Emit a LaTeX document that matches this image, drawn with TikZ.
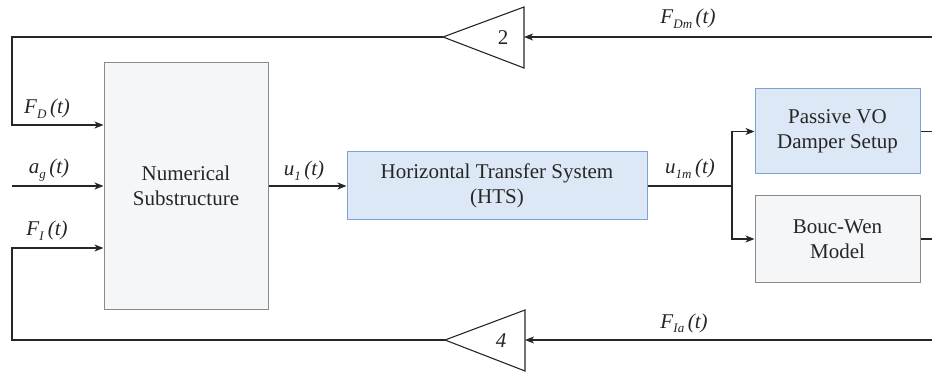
\documentclass[tikz,border=0pt]{standalone}
\usepackage{fontspec}
\setmainfont{Liberation Serif}
\usetikzlibrary{arrows.meta,calc}
\definecolor{boxgray}{HTML}{F5F6F8}
\definecolor{bordgray}{HTML}{8A8A8A}
\definecolor{boxblue}{HTML}{DCE8F6}
\definecolor{bordblue}{HTML}{7FA2D4}
\definecolor{ink}{HTML}{262626}
\newcommand{\sgl}[2]{\textit{#1}\raisebox{-0.45ex}{\scalebox{0.62}{\textit{#2}}}\,\textit{(t)}}
\begin{document}
\begin{tikzpicture}[x=1pt,y=-1pt,
  every node/.style={text=ink,font=\fontsize{21}{25}\selectfont},
  blk/.style={draw=bordgray,fill=boxgray,line width=1pt,align=center,inner sep=0pt},
  bblk/.style={draw=bordblue,fill=boxblue,line width=1pt,align=center,inner sep=0pt},
  wire/.style={draw=ink,line width=1.1pt},
  arr/.style={wire,-{Stealth[length=9pt,width=7pt,inset=2.5pt]}},
  lbl/.style={inner sep=0pt,anchor=base}]
\useasboundingbox (0,0) rectangle (932,374);
% blocks
\node[blk,minimum width=164pt,minimum height=246pt] (num) at (186,186) {Numerical\\Substructure};
\node[bblk,minimum width=300pt,minimum height=68pt] (hts) at (497,186) {Horizontal Transfer System\\(HTS)};
\node[bblk,minimum width=165pt,minimum height=85pt] (pvo) at (837.5,131.5) {Passive VO\\Damper Setup};
\node[blk,minimum width=165pt,minimum height=86pt] (bw) at (837.5,239) {Bouc-Wen\\Model};
% gain triangles
\coordinate (t2a) at (443,37);
\coordinate (t2b) at (524,37);
\draw[wire,line join=miter] (t2a) -- (524,7) -- (524,68) -- cycle;
\node (g2) at (503,38) {2};
\coordinate (t4a) at (445,340);
\coordinate (t4b) at (525,340);
\draw[wire,line join=miter] (t4a) -- (525,310) -- (525,371) -- cycle;
\node (g4) at (501,341) {\textit{4}};
% helper coordinates
\coordinate (tl) at (12,37);
\coordinate (bl) at (12,340);
\coordinate (tr) at (932,37);
\coordinate (br) at (932,340);
\coordinate (yFD) at (0,125);
\coordinate (yFI) at (0,248);
\coordinate (agl) at (12,186);
\coordinate (split) at (732,186);
\coordinate (redge) at (932,0);
% connectors
\draw[arr] (tr) -- (t2b);
\draw[arr] (t2a) -- (tl) |- (num.west |- yFD);
\draw[arr] (agl) -- (num.west);
\draw[arr] (br) -- (t4b);
\draw[arr] (t4a) -- (bl) |- (num.west |- yFI);
\draw[arr] (num.east) -- (hts.west);
\draw[wire] (hts.east) -- (split);
\draw[arr] (split) |- (pvo.west);
\draw[arr] (split) |- (bw.west);
\draw[wire] (pvo.east) -- (pvo.east -| redge);
\draw[wire] (bw.east) -- (bw.east -| redge);
% labels
\node[lbl] (lFDm) at (688,24) {\sgl{F}{Dm}};
\node[lbl] (lFIa) at (684,328) {\sgl{F}{Ia}};
\node[lbl] (lFD) at (47,114) {\sgl{F}{D}};
\node[lbl] (lag) at (49,174) {\sgl{a}{g}};
\node[lbl] (lFI) at (47,236) {\sgl{F}{I}};
\node[lbl] (lu1) at (304,176) {\sgl{u}{1}};
\node[lbl] (lu1m) at (690,174) {\sgl{u}{1m}};
\end{tikzpicture}
\end{document}
